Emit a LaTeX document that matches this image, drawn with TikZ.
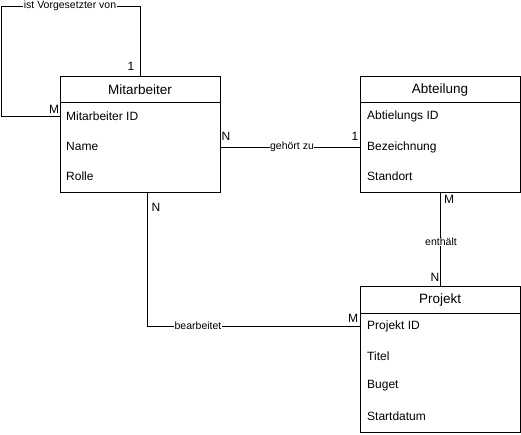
\documentclass[tikz,border=0pt]{standalone}
\usepackage{fontspec}
\setmainfont{Liberation Sans}
\begin{document}
\begin{tikzpicture}[x=1pt,y=-1pt,
  ent/.style={draw,line width=0.8pt,inner sep=0pt,anchor=north west},
  hdr/.style={font=\fontsize{13.5}{15}\selectfont},
  row/.style={font=\fontsize{12}{14}\selectfont,anchor=west,inner sep=0pt},
  lbl/.style={font=\fontsize{10.5}{12}\selectfont,fill=white,inner sep=0.5pt},
  card/.style={font=\fontsize{12}{14}\selectfont,inner sep=0pt},
  conn/.style={line width=0.8pt}]
\useasboundingbox (0,0) rectangle (521,435);
% Mitarbeiter
\node[ent,minimum width=160pt,minimum height=116pt] (m) at (60,76) {};
\draw[line width=0.8pt] (m.west |- 0,102) -- (m.east |- 0,102);
\node[hdr] (mh) at (140,90) {Mitarbeiter};
\node[row] (mid) at (66,116) {Mitarbeiter ID};
\node[row] (mname) at (66,146) {Name};
\node[row] (mrolle) at (66,176) {Rolle};
% Abteilung
\node[ent,minimum width=160pt,minimum height=116pt] (a) at (360,76) {};
\draw[line width=0.8pt] (a.west |- 0,102) -- (a.east |- 0,102);
\node[hdr] (ah) at (440,90) {Abteilung};
\node[row] (aid) at (367,116) {Abtielungs ID};
\node[row] (abez) at (367,147) {Bezeichnung};
\node[row] (aort) at (367,176) {Standort};
% Projekt
\node[ent,minimum width=160pt,minimum height=146pt] (p) at (360,286) {};
\draw[line width=0.8pt] (p.west |- 0,313) -- (p.east |- 0,313);
\node[hdr] (ph) at (440,300) {Projekt};
\node[row] (pid) at (367,326) {Projekt ID};
\node[row] (ptitel) at (367,356) {Titel};
\node[row] (pbuget) at (367,386) {Buget};
\node[row] (pstart) at (367,416) {Startdatum};
% self loop
\coordinate (loopTL) at (1,6);
\draw[conn] (m.north) |- (loopTL) |- (m.west |- mid);
\node[lbl] (lvorg) at (70,6) {ist Vorgesetzter von};
\node[card] (c1) at (131,66) {1};
\node[card] (c2) at (54,109) {M};
% gehoert zu
\draw[conn] (m.east |- abez) -- (a.west |- abez);
\node[lbl] (lgeh) at (292,147) {gehört zu};
\node[card] (c3) at (226,136) {N};
\node[card] (c4) at (355,136) {1};
% enthaelt
\coordinate (ex) at (440,242);
\draw[conn] (a.south -| ex) -- (p.north -| ex);
\node[lbl] (lent) at (441,242) {enthält};
\node[card] (c5) at (449,199) {M};
\node[card] (c6) at (435,277) {N};
% bearbeitet
\coordinate (bx) at (147,326);
\draw[conn] (m.south -| bx) |- (p.west |- pid);
\node[lbl] (lbear) at (198,326) {bearbeitet};
\node[card] (c7) at (156,207) {N};
\node[card] (c8) at (353,318) {M};
\end{tikzpicture}
\end{document}
